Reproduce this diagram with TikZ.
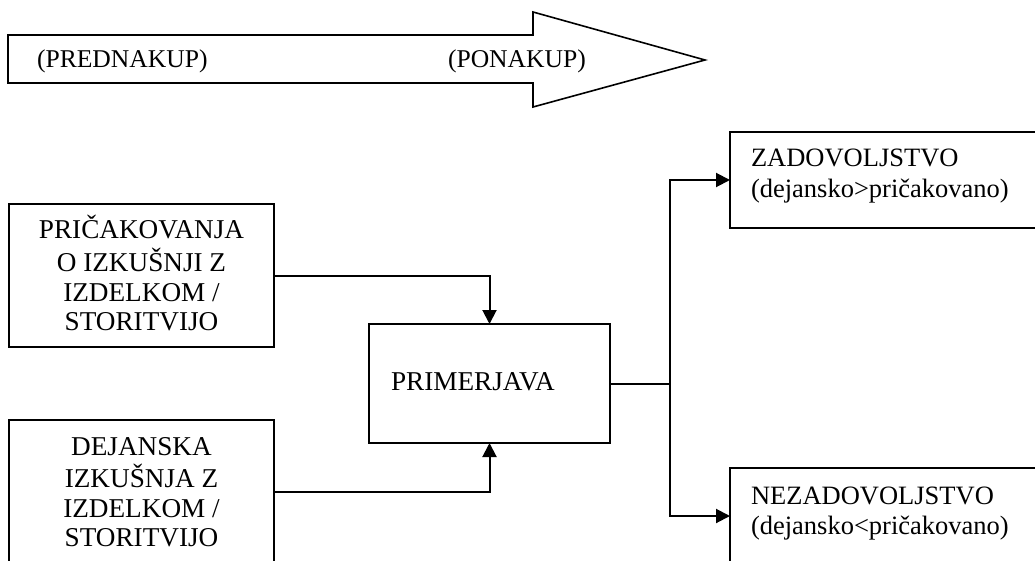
\documentclass[tikz,border=0pt]{standalone}
\usepackage{fontspec}
\setmainfont{Liberation Serif}
\usetikzlibrary{arrows.meta}
\newcommand\mylinesc[1]{\begin{tabular}[t]{@{}c@{}}#1\end{tabular}}
\newcommand\mylinesl[1]{\begin{tabular}[t]{@{}l@{}}#1\end{tabular}}
\begin{document}
\begin{tikzpicture}[x=1pt,y=-1pt,
  every node/.style={font=\fontsize{25.6}{29.8}\selectfont},
  boxfont/.style={font=\fontsize{27.2}{29.8}\selectfont},
  rfont/.style={font=\fontsize{26.5}{30.5}\selectfont},
  boxnode/.style={draw=black,line width=2pt,rectangle,inner sep=0pt,outer sep=0pt,fill=white},
  txt/.style={inner sep=0pt,outer sep=0pt,anchor=base},
  txtl/.style={inner sep=0pt,outer sep=0pt,anchor=base west},
  conn/.style={draw=black,line width=2pt},
  arr/.style={conn,-{Triangle[length=14pt,width=14pt]}}]
\useasboundingbox (0,0) rectangle (1035,561);
\clip (0,0) rectangle (1035,561);
\fill[white] (0,0) rectangle (1035,561);

% big process arrow
\draw[line width=1.6pt,line join=miter] (8,35) -- (533,35) -- (533,12) -- (705,60) -- (533,107) -- (533,83) -- (8,83) -- cycle;
\node[txtl] (pred) at (37,68) {(PREDNAKUP)};
\node[txtl] (pona) at (448,68) {(PONAKUP)};

% boxes
\node[boxnode,minimum width=265pt,minimum height=143pt] (pric) at (141.5,275.5) {};
\node[boxnode,minimum width=265pt,minimum height=143pt] (dej) at (141.5,491.5) {};
\node[boxnode,minimum width=241pt,minimum height=119pt] (prim) at (489.5,383.5) {};
\node[boxnode,minimum width=330pt,minimum height=96pt] (zad) at (895,180) {};
\node[boxnode,minimum width=330pt,minimum height=96pt] (nez) at (895,516) {};

% texts
\node[txt,boxfont] (pricT) at (141.5,239) {\mylinesc{PRIČAKOVANJA\\O IZKUŠNJI Z\\IZDELKOM /\\STORITVIJO}};
\node[txt,boxfont] (dejT) at (141.5,455) {\mylinesc{DEJANSKA\\IZKUŠNJA Z\\IZDELKOM /\\STORITVIJO}};
\node[txtl,boxfont] (primT) at (391,390) {PRIMERJAVA};
\node[txtl,rfont] (zadT) at (751,167) {\mylinesl{ZADOVOLJSTVO\\(dejansko>pričakovano)}};
\node[txtl,rfont] (nezT) at (751,504) {\mylinesl{NEZADOVOLJSTVO\\(dejansko<pričakovano)}};

% connectors
\draw[arr] (pric.east) -| (prim.north);
\draw[arr] (dej.east) -| (prim.south);
\coordinate (split) at (670,383.5);
\draw[conn] (prim.east) -- (split);
\draw[arr] (split) |- (zad.west);
\draw[arr] (split) |- (nez.west);
\end{tikzpicture}
\end{document}
